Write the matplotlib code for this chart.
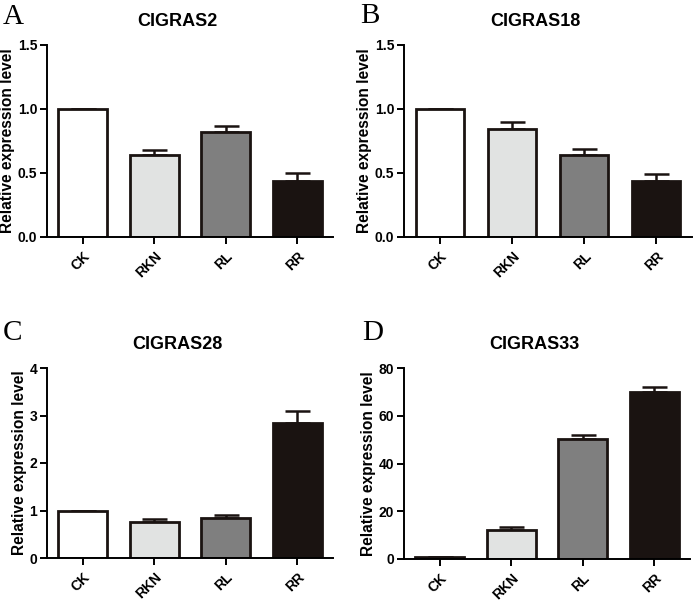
import numpy as np
import matplotlib.pyplot as plt

plt.rcParams['font.family'] = ['Liberation Sans', 'DejaVu Sans']
plt.rcParams['font.weight'] = 'bold'

groups = ['CK', 'RKN', 'RL', 'RR']
bar_colors = ['#ffffff', '#e1e3e2', '#7f7f7f', '#1a1311']

genes = ['CIGRAS2', 'CIGRAS18', 'CIGRAS28', 'CIGRAS33']
letters = ['A', 'B', 'C', 'D']

mean_A = [1.0, 0.638, 0.818, 0.437]
err_A = [0.0, 0.045, 0.048, 0.060]
mean_B = [1.0, 0.841, 0.638, 0.437]
err_B = [0.0, 0.060, 0.048, 0.056]
mean_C = [1.0, 0.76, 0.845, 2.84]
err_C = [0.0, 0.06, 0.06, 0.25]
mean_D = [1.0, 12.3, 50.1, 69.8]
err_D = [0.0, 1.1, 2.0, 2.3]

means = [mean_A, mean_B, mean_C, mean_D]
errs = [err_A, err_B, err_C, err_D]
ymax = [1.5, 1.5, 4, 80]
yticks = [[0.0, 0.5, 1.0, 1.5], [0.0, 0.5, 1.0, 1.5], [0, 1, 2, 3, 4], [0, 20, 40, 60, 80]]
ytick_fmt = ['{:.1f}', '{:.1f}', '{:d}', '{:d}']

W, H = 693, 602
# axes boxes in pixels: left, right, top, bottom
boxes = [(47, 333, 45, 237), (404, 692, 45, 237),
         (47, 333, 368, 558), (404, 690, 368, 559)]
# panel letter positions (left, baseline) in pixels
letter_pos = [(3, 24), (360, 23), (3, 340), (362, 340)]

fig = plt.figure(figsize=(W / 100, H / 100), dpi=100)

for i in range(4):
    l, r, t, b = boxes[i]
    ax = fig.add_axes([l / W, 1 - b / H, (r - l) / W, (b - t) / H])
    x = np.arange(len(groups))
    yerr = [np.zeros(len(groups)), errs[i]]
    ax.bar(x, means[i], width=0.68, color=bar_colors, edgecolor='#1a1311',
           linewidth=2.0, zorder=2)
    ax.errorbar(x, means[i], yerr=yerr, fmt='none', ecolor='#1a1311',
                elinewidth=1.8, capsize=9, capthick=1.8, zorder=1)
    ax.set_xlim(-0.5, 3.5)
    ax.set_ylim(0, ymax[i])
    ax.set_yticks(yticks[i])
    ax.set_yticklabels([ytick_fmt[i].format(v) for v in yticks[i]])
    ax.set_xticks(x)
    ax.set_xticklabels(groups, rotation=45, ha='right', rotation_mode='anchor')
    ax.spines['top'].set_visible(False)
    ax.spines['right'].set_visible(False)
    ax.spines['left'].set_linewidth(1.4)
    ax.spines['bottom'].set_linewidth(1.4)
    ax.tick_params(axis='both', width=1.4, length=5, labelsize=10, pad=2)
    ax.tick_params(axis='x', pad=4)
    ax.set_ylabel('Relative expression level', fontsize=11.2, fontweight='bold', labelpad=2)
    # title sits a little left of the axes centre in the original
    ax.set_title(genes[i], fontsize=13, fontweight='bold', pad=14,
                 x=0.5 - 13 / (r - l))
    lx, ly = letter_pos[i]
    fig.text(lx / W, 1 - ly / H, letters[i], fontsize=21,
             family='Liberation Serif', fontweight='normal', va='baseline', ha='left')

fig.savefig('out.png', dpi=100)
